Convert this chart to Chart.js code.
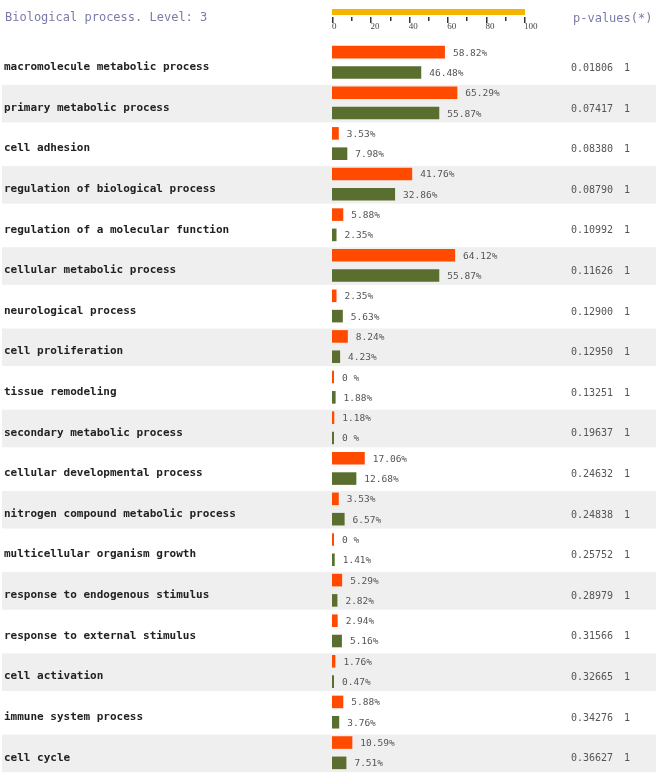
<!DOCTYPE html>
<html><head><meta charset="utf-8">
<script src="https://cdn.jsdelivr.net/npm/chart.js@4"></script>
<style>html,body{margin:0;padding:0;background:#fff;}#wrap{width:656px;height:773px;}</style>
</head><body><div id="wrap"><canvas id="c" width="656" height="773"></canvas></div>
<script>
const categories = [
  'macromolecule metabolic process',
  'primary metabolic process',
  'cell adhesion',
  'regulation of biological process',
  'regulation of a molecular function',
  'cellular metabolic process',
  'neurological process',
  'cell proliferation',
  'tissue remodeling',
  'secondary metabolic process',
  'cellular developmental process',
  'nitrogen compound metabolic process',
  'multicellular organism growth',
  'response to endogenous stimulus',
  'response to external stimulus',
  'cell activation',
  'immune system process',
  'cell cycle'
];
const setValues = [58.82, 65.29, 3.53, 41.76, 5.88, 64.12, 2.35, 8.24, 0, 1.18, 17.06, 3.53, 0, 5.29, 2.94, 1.76, 5.88, 10.59];
const refValues = [46.48, 55.87, 7.98, 32.86, 2.35, 55.87, 5.63, 4.23, 1.88, 0, 12.68, 6.57, 1.41, 2.82, 5.16, 0.47, 3.76, 7.51];
const pValues = ['0.01806','0.07417','0.08380','0.08790','0.10992','0.11626','0.12900','0.12950','0.13251','0.19637','0.24632','0.24838','0.25752','0.28979','0.31566','0.32665','0.34276','0.36627'];
const corrected = ['1','1','1','1','1','1','1','1','1','1','1','1','1','1','1','1','1','1'];
const majorTicks = [0, 20, 40, 60, 80, 100];
const minorTicks = [10, 30, 50, 70, 90];
const chartTitle = 'Biological process. Level: 3';
const pHeader = 'p-values(*)';

const fmt = v => v === 0 ? '0 %' : v.toFixed(2) + '%';

const decor = {
  id: 'decor',
  beforeDraw(chart) {
    const ctx = chart.ctx, y = chart.scales.y;
    const step = y.getPixelForValue(1) - y.getPixelForValue(0);
    ctx.save();
    ctx.fillStyle = '#efefef';
    categories.forEach((c, i) => {
      if (i % 2 === 1) {
        const cy = y.getPixelForValue(i);
        ctx.fillRect(2, cy - step * 0.445, 654, step * 0.925);
      }
    });
    ctx.restore();
  },
  afterDatasetsDraw(chart) {
    const ctx = chart.ctx, x = chart.scales.x, y = chart.scales.y;
    ctx.save();
    ctx.font = '9.5px "DejaVu Sans Mono"';
    ctx.fillStyle = '#555';
    ctx.textBaseline = 'middle';
    ctx.textAlign = 'left';
    chart.data.datasets.forEach((ds, di) => {
      const meta = chart.getDatasetMeta(di);
      meta.data.forEach((bar, i) => {
        ctx.fillText(fmt(ds.data[i]), bar.x + 8, bar.y + 1);
      });
    });
    ctx.font = '10px "DejaVu Sans Mono"';
    categories.forEach((c, i) => {
      const cy = y.getPixelForValue(i) + 6;
      ctx.fillText(pValues[i], 571, cy);
      ctx.fillText(corrected[i], 624, cy);
    });
    const x0 = x.getPixelForValue(0), x1 = x.getPixelForValue(100);
    ctx.fillStyle = '#f5b400';
    ctx.fillRect(x0, 9, x1 - x0 + 1, 6);
    ctx.fillStyle = '#333';
    majorTicks.forEach(t => {
      const px = Math.round(x.getPixelForValue(t));
      ctx.fillRect(px, 17, 1.5, 6);
    });
    minorTicks.forEach(t => {
      const px = Math.round(x.getPixelForValue(t));
      ctx.fillRect(px, 17, 1.5, 4);
    });
    ctx.font = '9px "Liberation Serif"';
    ctx.fillStyle = '#444';
    majorTicks.forEach(t => {
      const px = x.getPixelForValue(t);
      ctx.fillText(String(t), px, 27);
    });
    ctx.font = '12px "DejaVu Sans Mono"';
    ctx.fillStyle = '#7a7aa8';
    ctx.fillText(chartTitle, 5, 18);
    ctx.fillText(pHeader, 573, 19);
    ctx.restore();
  }
};

new Chart(document.getElementById('c'), {
  type: 'bar',
  data: {
    labels: categories,
    datasets: [
      { label: 'set', data: setValues, backgroundColor: '#ff4a00', categoryPercentage: 1.0, barPercentage: 0.62, minBarLength: 2 },
      { label: 'reference', data: refValues, backgroundColor: '#5a6e30', categoryPercentage: 1.0, barPercentage: 0.62, minBarLength: 2 }
    ]
  },
  options: {
    indexAxis: 'y',
    responsive: false,
    animation: false,
    devicePixelRatio: 1,
    layout: { padding: { left: 4, right: 132, top: 42, bottom: 0 } },
    scales: {
      x: { type: 'linear', min: 0, max: 100, display: false },
      y: {
        grid: { display: false },
        border: { display: false },
        afterFit(s) { s.width = 328; s.paddingTop = 0; s.paddingBottom = 0; },
        ticks: {
          autoSkip: false,
          crossAlign: 'far',
          labelOffset: 5,
          padding: 0,
          color: '#222',
          font: { family: 'DejaVu Sans Mono', size: 11, weight: 'bold' }
        }
      }
    },
    plugins: { legend: { display: false }, tooltip: { enabled: false }, title: { display: false } }
  },
  plugins: [decor]
});
</script>
</body></html>
